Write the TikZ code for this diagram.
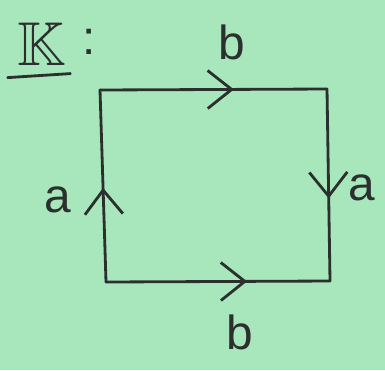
\documentclass[tikz,border=0pt]{standalone}
\usepackage{amssymb}
\usepackage{fontspec}
\setmainfont{Liberation Sans}
\usetikzlibrary{arrows.meta,decorations.markings}
\definecolor{paper}{HTML}{A8E6BC}
\definecolor{ink}{HTML}{2B302E}
\tikzset{
  edge/.style={line width=2pt, draw=ink, line cap=round},
  midarr/.style={postaction={decorate}, decoration={markings,
      mark=at position #1 with {\arrow{Straight Barb[length=0.6cm,width=0.95cm,line width=2pt]}}}},
  lbl/.style={text=ink, font=\fontsize{34}{36}\selectfont, inner sep=0pt},
}

\begin{document}
\begin{tikzpicture}[x=0.025cm,y=-0.025cm]
  \useasboundingbox[fill=paper] (0,0) rectangle (385,370);
  % --- title ---
  \node[text=ink,inner sep=0pt] (kk) at (42,44) {\fontsize{44}{46}\selectfont$\mathbb{K}$};
  \draw[edge] ([xshift=-0.25cm,yshift=-0.3cm]kk.south west) -- ([xshift=0.1cm,yshift=-0.2cm]kk.south east);
  \node[lbl] (colon) at (89,42) {:};
  % --- corners ---
  \coordinate (tl) at (100,90);
  \coordinate (tr) at (327,89);
  \coordinate (br) at (330,281);
  \coordinate (bl) at (106,282);
  % --- edges ---
  \draw[edge,midarr=0.59] (tl) -- (tr);
  \draw[edge,midarr=0.63] (bl) -- (br);
  \draw[edge,midarr=0.49] (bl) -- (tl);
  \draw[edge,midarr=0.57] (tr) -- (br);
  % --- labels ---
  \node[lbl] (btop) at (232,42) {b};
  \node[lbl] (bbot) at (240,332) {b};
  \node[lbl] (aleft) at (58,200) {a};
  \node[lbl] (aright) at (362,188) {a};
\end{tikzpicture}
\end{document}
